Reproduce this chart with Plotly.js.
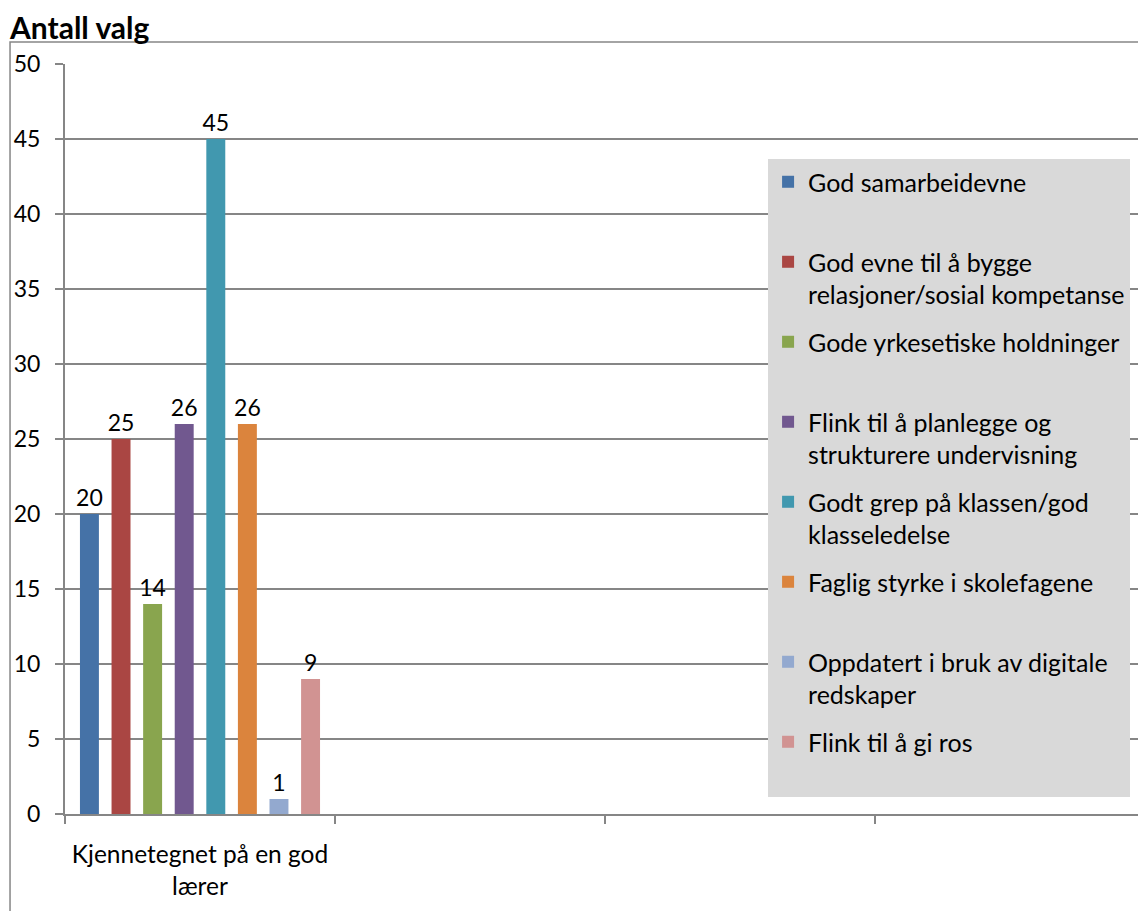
<!DOCTYPE html>
<html>
<head>
<meta charset="utf-8">
<script src="https://cdn.plot.ly/plotly-3.0.1.min.js"></script>
<style>
html,body{margin:0;padding:0;overflow:hidden;background:#fff;}
#chart{width:1150px;height:911px;}
</style>
</head>
<body>
<div id="chart"></div>
<script>
const categories = ["Kjennetegnet på en god<br>lærer", " ", "  ", "   "];
const seriesNames = [
  "God samarbeidevne",
  "God evne til å bygge<br>relasjoner/sosial kompetanse",
  "Gode yrkesetiske holdninger",
  "Flink til å planlegge og<br>strukturere undervisning",
  "Godt grep på klassen/god<br>klasseledelse",
  "Faglig styrke i skolefagene",
  "Oppdatert i bruk av digitale<br>redskaper",
  "Flink til å gi ros"
];
const values = [20, 25, 14, 26, 45, 26, 1, 9];
const colors = ["#4572A7", "#AA4643", "#89A54E", "#71588F", "#4198AF", "#DB843D", "#93A9CF", "#D19392"];
const yTicks = [0, 5, 10, 15, 20, 25, 30, 35, 40, 45, 50];

const FONT = "Lato, 'Open Sans', sans-serif";

const traces = seriesNames.map((name, i) => ({
  type: "bar",
  name: name.includes("<br>") ? name : name + "<br>\u00a0",
  x: [categories[0]],
  y: [values[i]],
  text: [String(values[i])],
  textposition: "outside",
  constraintext: "none",
  textfont: {family: FONT, size: 23, color: "#000"},
  cliponaxis: false,
  marker: {color: colors[i], line: {width: 0}},
  legendgroup: "g" + i,
  hoverinfo: "skip"
}));

const layout = {
  width: 1150,
  height: 911,
  margin: {l: 65, r: 5, t: 64, b: 97},
  paper_bgcolor: "#fff",
  plot_bgcolor: "#fff",
  font: {family: FONT, size: 23, color: "#000"},
  title: {text: "<b>Antall valg</b>", xref: "container", x: 10 / 1150, xanchor: "left", yref: "container", y: 1 - 28 / 911, yanchor: "middle", font: {family: FONT, size: 30, color: "#000"}},
  barmode: "group",
  bargap: 0.064,
  bargroupgap: 0.40,
  showlegend: true,
  legend: {
    x: 0.651, y: 0.8733, xanchor: "left", yanchor: "top",
    bgcolor: "#D9D9D9", borderwidth: 0,
    font: {family: FONT, size: 25, color: "#000"},
    valign: "top",
    tracegroupgap: 12,
    traceorder: "grouped",
    itemclick: false
  },
  xaxis: {
    type: "category",
    categoryorder: "array",
    categoryarray: categories,
    range: [-0.5, 3.5],
    tickson: "boundaries",
    ticks: "outside",
    ticklen: 8,
    tickwidth: 2,
    tickcolor: "#868686",
    showline: true,
    linecolor: "#868686",
    linewidth: 2,
    showgrid: false,
    ticklabelstandoff: 18,
    tickfont: {family: FONT, size: 24.5, color: "#000"},
    fixedrange: true
  },
  yaxis: {
    range: [0, 50],
    tickvals: yTicks,
    ticks: "outside",
    ticklen: 8,
    tickwidth: 1.5,
    tickcolor: "#868686",
    showline: true,
    linecolor: "#868686",
    linewidth: 2,
    showgrid: true,
    gridcolor: "#868686",
    gridwidth: 1.3,
    zeroline: false,
    ticklabelstandoff: 10,
    tickfont: {family: FONT, size: 23, color: "#000"},
    fixedrange: true
  },
  shapes: [{
    type: "rect", xref: "paper", yref: "paper",
    x0: -0.0509, x1: 1.2, y0: -0.3, y1: 1.0293,
    line: {color: "#868686", width: 1.5},
    fillcolor: "rgba(0,0,0,0)",
    layer: "below"
  }]
};

Plotly.newPlot("chart", traces, layout, {displayModeBar: false, staticPlot: true});
</script>
</body>
</html>
